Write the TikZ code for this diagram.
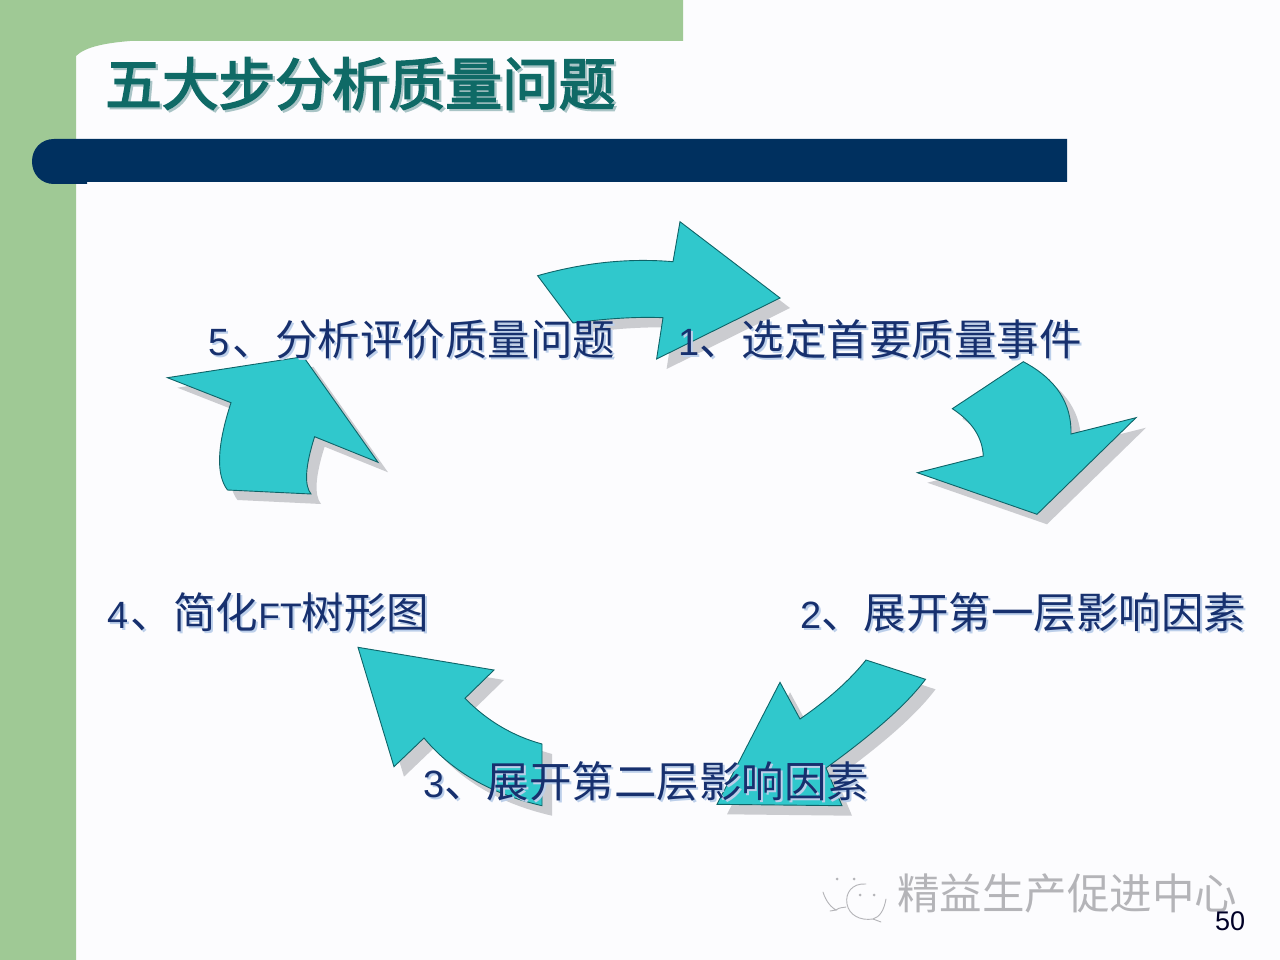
\documentclass[tikz,border=0pt]{standalone}
\usepackage{fontspec}
\setmainfont{Liberation Sans}
\newfontfamily\cjk{Noto Sans CJK SC}
\newfontfamily\cjkheavy[FakeBold=3]{Noto Sans CJK SC}
\definecolor{pagebg}{HTML}{FCFCFE}
\definecolor{sidegreen}{HTML}{9FC995}
\definecolor{barnavy}{HTML}{00305F}
\definecolor{arrowfill}{HTML}{30C8CC}
\definecolor{arrowline}{HTML}{0E6468}
\definecolor{arrowshade}{HTML}{CBCCD0}
\definecolor{titleink}{HTML}{0F6A66}
\definecolor{titleshade}{HTML}{A9C4C6}
\definecolor{labelink}{HTML}{17306E}
\definecolor{labelshade}{HTML}{BCCFEA}
\definecolor{markgray}{HTML}{B4B4B8}
\newcommand{\shadowed}[4]{\rlap{\kern#4\raisebox{-#4}{\color{#1}#3}}{\color{#2}#3}}
\tikzset{
  blockarrow/.style={fill=arrowfill,draw=arrowline,line width=0.9pt,line join=miter},
  blockshade/.style={fill=arrowshade,draw=none},
  steplabel/.style={anchor=base west,inner sep=0pt,font=\fontsize{42.5}{42.5}\selectfont},
  marktext/.style={anchor=base west,inner sep=0pt,text=markgray,font=\fontsize{42.5}{42.5}\selectfont\cjk},
  markline/.style={draw=markgray,line width=0.9pt,line cap=round}
}
\newcommand{\arrowA}{(537.6,275.7) .. controls (583.9,262.6) and (628.7,257.9) .. (673,261.7) -- (680,221.7) -- (780,298) -- (656.6,359) -- (663,317.7) .. controls (637.7,316.6) and (607.7,318.3) .. (573,323) -- cycle}
\newcommand{\arrowB}{(1023.3,361.7) .. controls (1056.4,379.2) and (1071.7,403.3) .. (1071,434) -- (1136,417.7) -- (1037,514.3) -- (917.3,472.7) -- (983.3,456) .. controls (982.4,437.3) and (972.1,421.6) .. (952.3,408.7) -- cycle}
\newcommand{\arrowC}{(866,660) -- (925.5,679.3) .. controls (907.2,703.8) and (874,733.3) .. (826,768) -- (842,805.7) -- (717,804.3) -- (780,682.3) -- (800,719) .. controls (828,699.7) and (850,680) .. (866,660) -- cycle}
\newcommand{\arrowD}{(358,647.3) -- (494,670) -- (465,698.3) .. controls (487,720.8) and (512.7,736) .. (542,744) -- (542,805.7) .. controls (490.7,793.9) and (451.3,771) .. (424,738) -- (394,766.7) -- cycle}
\newcommand{\arrowE}{(167.4,377.7) -- (303.4,356.7) -- (378,462.3) -- (314.6,436.7) .. controls (305.3,466.2) and (304,485.3) .. (311,494) -- (227.5,490) .. controls (215.8,474.7) and (217,445.6) .. (231,402.7) -- cycle}
\begin{document}
\begin{tikzpicture}[x=1pt,y=-1pt]
\useasboundingbox (0,0) rectangle (1280,960);
\fill[pagebg] (0,0) rectangle (1280,960);
% green frame
\fill[sidegreen] (0,0) -- (683,0) -- (683,41) -- (130,41) .. controls (105,43) and (85,47) .. (76,56) -- (76,960) -- (0,960) -- cycle;
% navy bar
\fill[barnavy] (1067,139) -- (1067,182) -- (87,182) -- (87,184) -- (54,184) .. controls (41,184) and (32,174) .. (32,161.5) .. controls (32,149) and (41,139) .. (54,139) -- cycle;
% title
\node[anchor=base west,inner sep=0pt,font=\fontsize{56.7}{56.7}\selectfont\cjkheavy] (title) at (105,105)
  {\shadowed{titleshade}{titleink}{五大步分析质量问题}{2.2pt}};
% block arrows
\begin{scope}[shift={(10,10)}]
  \fill[blockshade] \arrowA;
  \fill[blockshade] \arrowB;
  \fill[blockshade] \arrowC;
  \fill[blockshade] \arrowD;
  \fill[blockshade] \arrowE;
\end{scope}
\filldraw[blockarrow] \arrowA;
\filldraw[blockarrow] \arrowB;
\filldraw[blockarrow] \arrowC;
\filldraw[blockarrow] \arrowD;
\filldraw[blockarrow] \arrowE;
% step labels
\node[steplabel] (s5) at (208,355) {\shadowed{labelshade}{labelink}{\fontsize{38}{38}\selectfont 5\kern3.5pt\cjk\fontsize{42.5}{42.5}\selectfont 、分析评价质量问题}{2pt}};
\node[steplabel] (s1) at (678,355) {\shadowed{labelshade}{labelink}{\fontsize{38}{38}\selectfont 1\cjk\fontsize{42.5}{42.5}\selectfont 、选定首要质量事件}{2pt}};
\node[steplabel] (s2) at (800,628) {\shadowed{labelshade}{labelink}{\fontsize{38}{38}\selectfont 2\cjk\fontsize{42.5}{42.5}\selectfont 、展开第一层影响因素}{2pt}};
\node[steplabel] (s3) at (423,797) {\shadowed{labelshade}{labelink}{\fontsize{38}{38}\selectfont 3\cjk\fontsize{42.5}{42.5}\selectfont 、展开第二层影响因素}{2pt}};
\node[steplabel] (s4) at (107,628) {\shadowed{labelshade}{labelink}{\fontsize{38}{38}\selectfont 4\kern2.5pt\cjk\fontsize{42.5}{42.5}\selectfont 、简化\fontsize{35.5}{35.5}\selectfont\rmfamily FT\cjk\fontsize{42.5}{42.5}\selectfont 树形图}{2pt}};
% watermark
\draw[markline] (823,892) .. controls (826,902) and (832,908) .. (836,910) -- (830,911);
\draw[markline] (836,910) .. controls (840,907) and (842,908) .. (846,907);
\draw[markline] (866,884) .. controls (852,883) and (845,893) .. (847,904) .. controls (849,915) and (860,921) .. (873,919) -- (881,922);
\draw[markline] (873,919) .. controls (880,917) and (884,910) .. (886,899);
\fill[markgray] (837,879) circle[radius=1.5] (854,879) circle[radius=1.5] (860,895) circle[radius=1.5] (874,895) circle[radius=1.5];
\node[marktext] (mark) at (897,909) {精益生产促进中心};
% page number
\node[anchor=base west,inner sep=0pt,text=black!85!blue,font=\fontsize{27}{27}\selectfont] (page) at (1215,930) {50};
\end{tikzpicture}
\end{document}
